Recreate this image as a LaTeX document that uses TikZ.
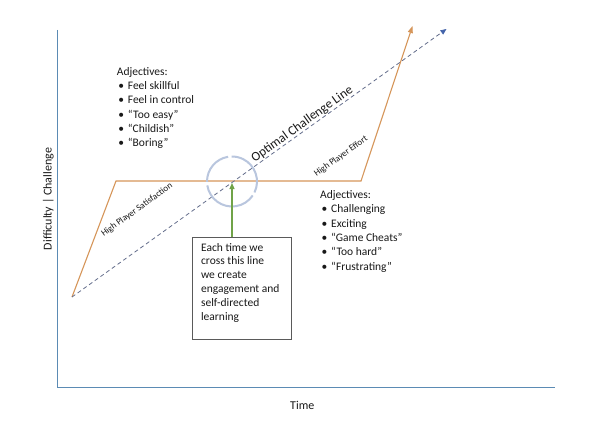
\documentclass[tikz,border=0pt]{standalone}
\usepackage{fontspec}
\setmainfont{Carlito}
\usetikzlibrary{arrows.meta}
\definecolor{axisblue}{RGB}{91,139,180}
\definecolor{curveorange}{RGB}{214,150,90}
\definecolor{dashgrey}{RGB}{100,110,140}
\definecolor{tipblue}{RGB}{68,100,170}
\definecolor{ringblue}{RGB}{185,198,222}
\definecolor{pointgreen}{RGB}{112,163,72}
\definecolor{boxgrey}{RGB}{90,90,90}
\definecolor{textgrey}{RGB}{25,25,25}
\tikzset{
  axisline/.style={line width=1.5pt, axisblue},
  pathline/.style={-{Triangle[length=7pt, width=5pt]}, line width=1.1pt, curveorange},
  optline/.style={-{Triangle[length=6pt, width=5pt, color=tipblue]}, line width=0.8pt, dashgrey, dash pattern=on 4pt off 3pt},
  ringarc/.style={line width=2pt, ringblue},
  pointarrow/.style={-{Triangle[length=6pt, width=5pt]}, line width=1.2pt, pointgreen},
  notebox/.style={draw=boxgrey, line width=0.8pt, anchor=north west, inner xsep=9pt, inner ysep=6pt, font=\fontsize{11.5}{13.8}\selectfont},
  adjlist/.style={anchor=north west, inner sep=0pt, align=left, font=\fontsize{11.5}{14.3}\selectfont},
  pathlabel/.style={font=\fontsize{9}{10}\selectfont, rotate=35.7, inner sep=0pt},
  axislabel/.style={font=\fontsize{12}{14}\selectfont}
}
\newcommand{\adjbul}{\makebox[11pt][l]{\hspace{1.5pt}•}}

\begin{document}
\begin{tikzpicture}[x=1pt, y=-1pt, every node/.style={text=textgrey}]
  \useasboundingbox[fill=white] (0,0) rectangle (602,425);
  \coordinate (origin) at (57.5,387.5);
  \coordinate (ytop) at (57.5,30);
  \coordinate (xend) at (555,387.5);
  \coordinate (start) at (72,297);
  \coordinate (knee1) at (116,181);
  \coordinate (knee2) at (361,181);
  \coordinate (hitip) at (412.5,26);
  \coordinate (optip) at (446.5,29);
  \coordinate (cross) at (232,181.5);

  % axes
  \draw[axisline] (ytop) -- (origin) -- (xend);
  \node[axislabel, rotate=90] (ylab) at (48.3,199) {Difficulty | Challenge};
  \node[axislabel] (xlab) at (302.3,405) {Time};

  % player curve and optimal line
  \draw[pathline] (start) -- (knee1) -- (knee2) -- (hitip);
  \draw[optline] (start) -- node[pos=0.625, sloped, above, inner sep=0.5pt, font=\fontsize{13}{15}\selectfont] (optlabel) {Optimal Challenge Line} (optip);
  \node[pathlabel] (satlabel) at (137,210) {High Player Satisfaction};
  \node[pathlabel] (effortlabel) at (341,156.5) {High Player Effort};

  % ring round the crossing
  \foreach \a/\b in {99/181, 189/326, 334/451}
    \draw[ringarc] ([shift={(-\a:25)}]cross) arc[start angle=-\a, end angle=-\b, radius=25];

  \node[notebox] (note) at (191.7,236.7) {\begin{minipage}[t][90.6pt][t]{81.3pt}Each time we\\cross this line\\we create\\engagement and\\self-directed\\learning\end{minipage}};
  \draw[pointarrow, shorten >=1.5pt] (note.north -| cross) -- (cross);

  \node[adjlist] (easylist) at (116.7,67.2) {Adjectives:\\\adjbul Feel skillful\\\adjbul Feel in control\\\adjbul “Too easy”\\\adjbul “Childish”\\\adjbul “Boring”};
  \node[adjlist] (hardlist) at (320,190.5) {Adjectives:\\\adjbul Challenging\\\adjbul Exciting\\\adjbul “Game Cheats”\\\adjbul “Too hard”\\\adjbul “Frustrating”};
\end{tikzpicture}
\end{document}
